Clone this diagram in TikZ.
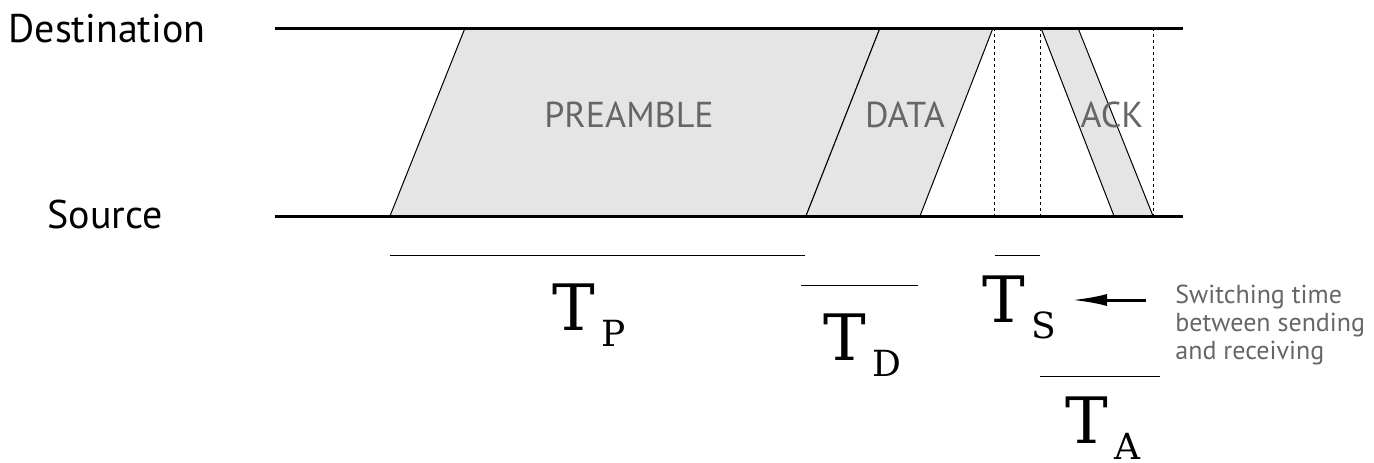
\documentclass[tikz,border=0pt]{standalone}
\usepackage{fontspec}
\setmainfont{PT Sans}
\newfontfamily\serifT{DejaVu Serif}
\usetikzlibrary{arrows.meta}
\definecolor{pulsegray}{HTML}{E5E5E5}
\definecolor{textgray}{HTML}{666666}
\newcommand{\tlabel}[1]{{\fontsize{32}{32}\selectfont T}\kern3pt\raisebox{-8pt}{\fontsize{18}{18}\selectfont #1}}

\begin{document}
\begin{tikzpicture}[x=0.5pt,y=-0.5pt,>={Latex[length=17.5pt,width=6pt]},
    lbl/.style={inner sep=0pt,font=\fontsize{20}{20}\selectfont},
    pkt/.style={inner sep=0pt,anchor=base,text=textgray,font=\fontsize{18}{18}\selectfont},
    tlbl/.style={inner sep=0pt,anchor=base west,font=\serifT},
    timeline/.style={line width=1.5pt}]
    \useasboundingbox (0,0) rectangle (1374,462);
    % station names
    \node[lbl,anchor=base] (dest) at (107,42) {Destination};
    \node[lbl,anchor=base] (src) at (105,228) {Source};
    % the frames on the channel
    \foreach \a/\b/\c/\d in {390/465/880/806, 806/880/993/920, 1114/1041/1078/1153} {
            \fill[pulsegray] (\a,216) -- (\b,28) -- (\c,28) -- (\d,216) -- cycle;
            \draw[line width=0.5pt] (\a,216) -- (\b,28) (\d,216) -- (\c,28);
    }
    % switching marks
    \foreach \x in {994,1040,1153}
            \draw[line width=0.5pt,dash pattern=on 1.5pt off 1.5pt] (\x,28) -- (\x,216);
    % draw the two time lines
    \draw[timeline] (275,28) -- (1183,28);
    \draw[timeline] (275,216) -- (1183,216);
    \node[pkt] (pre) at (629,127) {PREAMBLE};
    \node[pkt] (data) at (905,127) {DATA};
    \node[pkt] (ack) at (1112,127) {ACK};
    % durations
    \foreach \x/\y/\z in {390/255/805, 801/285/918, 995/255/1040, 1040/376/1160}
            \draw[line width=0.5pt] (\x,\y) -- (\z,\y);
    \node[tlbl] (tp) at (552,330) {\tlabel{P}};
    \node[tlbl] (td) at (823,360) {\tlabel{D}};
    \node[tlbl] (ts) at (982,322) {\tlabel{S}};
    \node[tlbl] (ta) at (1065,443) {\tlabel{A}};
    % note on the switching time
    \node[anchor=base west,align=left,inner sep=0pt,text=textgray,
          font=\fontsize{13}{14}\selectfont] (note) at (1175,359)
          {Switching time\\between sending\\and receiving};
    \coordinate (arrtail) at (1146,300);
    \coordinate (arrtip) at (1072,300);
    \draw[->,line width=1.5pt] (arrtail) -- (arrtip);
\end{tikzpicture}
\end{document}
